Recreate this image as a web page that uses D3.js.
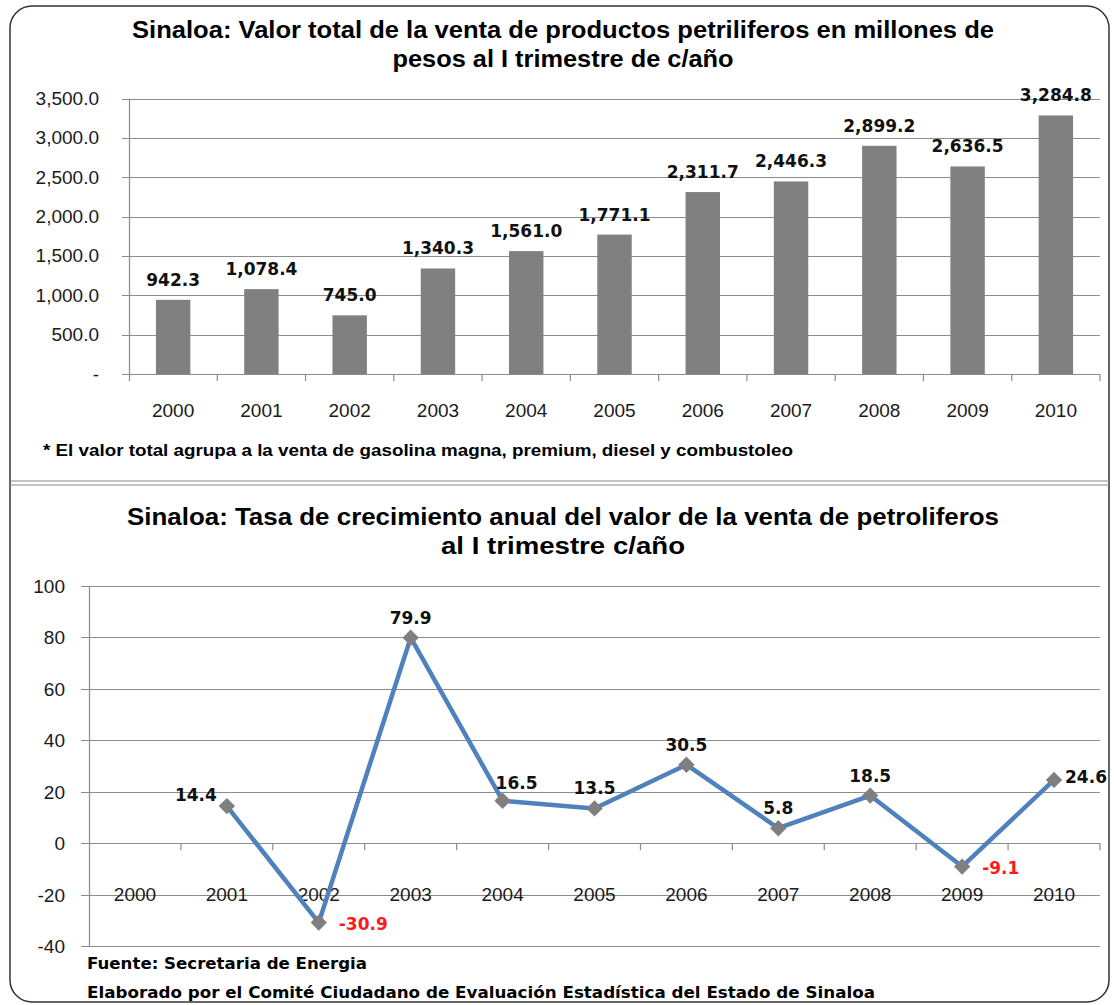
<!DOCTYPE html>
<html>
<head>
<meta charset="utf-8">
<script src="https://cdn.jsdelivr.net/npm/d3@7"></script>
<style>
  body { margin: 0; background: #fff; }
  svg { display: block; }
</style>
</head>
<body>
<div id="chart"></div>
<script>
const years = ['2000', '2001', '2002', '2003', '2004', '2005', '2006', '2007', '2008', '2009', '2010']
const ventas = [942.3, 1078.4, 745.0, 1340.3, 1561.0, 1771.1, 2311.7, 2446.3, 2899.2, 2636.5, 3284.8]
const ventasTicks = [0, 500, 1000, 1500, 2000, 2500, 3000, 3500]
// tasa de crecimiento, 2000 sin dato
const tasa = [null, 14.4, -30.9, 79.9, 16.5, 13.5, 30.5, 5.8, 18.5, -9.1, 24.6]
const tasaTicks = [-40, -20, 0, 20, 40, 60, 80, 100]
// donde va cada etiqueta de dato en la linea
const tasaLabelPos = [null, 'left', 'right', 'top', 'topright', 'top', 'top', 'top', 'top', 'right', 'rightnear']

const W = 1114, H = 1005
const GRID = '#8c8c8c'
const TICK_FONT = "'Liberation Sans', Arial, sans-serif"
const LABEL_FONT = "'DejaVu Sans', Verdana, sans-serif"
const TITLE_FONT = "'Liberation Sans', Arial, sans-serif"
const fmt1 = v => v.toFixed(1)

const svg = d3.select('#chart').append('svg').attr('width', W).attr('height', H)

// marco redondeado y separador
svg.append('rect')
  .attr('x', 10).attr('y', 6).attr('width', 1099).attr('height', 996)
  .attr('rx', 22).attr('ry', 22)
  .attr('fill', 'none').attr('stroke', '#333').attr('stroke-width', 1.5)
svg.append('line').attr('x1', 10).attr('x2', 1109).attr('y1', 481).attr('y2', 481).attr('stroke', '#888').attr('stroke-width', 1.2)
svg.append('line').attr('x1', 10).attr('x2', 1109).attr('y1', 485).attr('y2', 485).attr('stroke', '#888').attr('stroke-width', 1.2)

function title (lines, widths, y0) {
  svg.append('g').selectAll('text').data(lines).enter().append('text')
    .attr('x', 563).attr('y', (d, i) => y0 + i * 29)
    .attr('text-anchor', 'middle')
    .attr('font-family', TITLE_FONT).attr('font-weight', 'bold').attr('font-size', 23)
    .attr('textLength', (d, i) => widths[i]).attr('lengthAdjust', 'spacingAndGlyphs')
    .text(d => d)
}

// ---------- grafica 1: barras ----------
title(['Sinaloa: Valor total de la venta de productos petriliferos en millones de', 'pesos al I trimestre de c/año'], [862, 341], 38)

const x1 = d3.scaleBand().domain(years).range([129, 1100]).paddingInner(0.61).paddingOuter(0.305)
const y1 = d3.scaleLinear().domain([0, 3500]).range([374, 98.5])

const g1 = svg.append('g')
g1.selectAll('line.grid').data(ventasTicks).enter().append('line')
  .attr('x1', 122).attr('x2', 1100)
  .attr('y1', d => Math.round(y1(d)) + 0.5).attr('y2', d => Math.round(y1(d)) + 0.5)
  .attr('stroke', GRID).attr('stroke-width', 1.2)
g1.append('line').attr('x1', 129.5).attr('x2', 129.5).attr('y1', y1(3500)).attr('y2', 381).attr('stroke', GRID).attr('stroke-width', 1.2)
const bandStep = x1.step()
g1.selectAll('line.xt').data(d3.range(1, years.length + 1)).enter().append('line')
  .attr('x1', i => 129 + i * bandStep).attr('x2', i => 129 + i * bandStep)
  .attr('y1', 374).attr('y2', 381).attr('stroke', GRID).attr('stroke-width', 1.2)

g1.selectAll('text.yl').data(ventasTicks).enter().append('text')
  .attr('x', 99).attr('y', d => y1(d) + 6.5)
  .attr('text-anchor', 'end')
  .attr('font-family', TICK_FONT).attr('font-size', 19).attr('fill', '#1a1a1a')
  .text(d => d === 0 ? '-' : d3.format(',.1f')(d))

g1.selectAll('text.xl').data(years).enter().append('text')
  .attr('x', d => x1(d) + x1.bandwidth() / 2).attr('y', 417)
  .attr('text-anchor', 'middle')
  .attr('font-family', TICK_FONT).attr('font-size', 19).attr('fill', '#1a1a1a')
  .text(d => d)

g1.selectAll('rect.bar').data(ventas).enter().append('rect')
  .attr('x', (d, i) => x1(years[i])).attr('width', x1.bandwidth())
  .attr('y', d => y1(d)).attr('height', d => y1(0) - y1(d))
  .attr('fill', '#808080')

g1.selectAll('text.vl').data(ventas).enter().append('text')
  .attr('x', (d, i) => x1(years[i]) + x1.bandwidth() / 2).attr('y', d => y1(d) - 14)
  .attr('text-anchor', 'middle')
  .attr('font-family', LABEL_FONT).attr('font-weight', 'bold').attr('font-size', 17).attr('fill', '#111')
  .text(d => d3.format(',.1f')(d))

svg.append('text')
  .attr('x', 43).attr('y', 456)
  .attr('font-family', TITLE_FONT).attr('font-weight', 'bold').attr('font-size', 16)
  .attr('textLength', 750).attr('lengthAdjust', 'spacingAndGlyphs')
  .text('* El valor total agrupa a la venta de gasolina magna, premium, diesel y combustoleo')

// ---------- grafica 2: linea ----------
title(['Sinaloa: Tasa de crecimiento anual del valor de la venta de petroliferos', 'al I trimestre c/año'], [872, 244], 525)

const x2 = d3.scaleBand().domain(years).range([89, 1100])
const y2 = d3.scaleLinear().domain([-40, 100]).range([946, 586])
const cx = i => x2(years[i]) + x2.bandwidth() / 2

const g2 = svg.append('g')
g2.selectAll('line.grid').data(tasaTicks).enter().append('line')
  .attr('x1', 81).attr('x2', 1100)
  .attr('y1', d => Math.round(y2(d)) + 0.5).attr('y2', d => Math.round(y2(d)) + 0.5)
  .attr('stroke', GRID).attr('stroke-width', 1.2)
g2.append('line').attr('x1', 89.5).attr('x2', 89.5).attr('y1', y2(100)).attr('y2', y2(-40)).attr('stroke', GRID).attr('stroke-width', 1.2)
g2.selectAll('line.xt').data(d3.range(1, years.length + 1)).enter().append('line')
  .attr('x1', i => 89 + i * x2.step()).attr('x2', i => 89 + i * x2.step())
  .attr('y1', y2(0)).attr('y2', y2(0) + 7).attr('stroke', GRID).attr('stroke-width', 1.2)

g2.selectAll('text.yl').data(tasaTicks).enter().append('text')
  .attr('x', 65).attr('y', d => y2(d) + 7)
  .attr('text-anchor', 'end')
  .attr('font-family', TICK_FONT).attr('font-size', 19).attr('fill', '#1a1a1a')
  .text(d => d)

g2.selectAll('text.xl').data(years).enter().append('text')
  .attr('x', (d, i) => cx(i)).attr('y', y2(0) + 58)
  .attr('text-anchor', 'middle')
  .attr('font-family', TICK_FONT).attr('font-size', 19).attr('fill', '#1a1a1a')
  .text(d => d)

const pts = tasa.map((v, i) => ({v, i})).filter(d => d.v !== null)

const line = d3.line().x(d => cx(d.i)).y(d => y2(d.v))
g2.append('path')
  .attr('d', line(pts))
  .attr('fill', 'none').attr('stroke', '#4f81bd').attr('stroke-width', 4.5).attr('stroke-linejoin', 'round')

g2.selectAll('path.mk').data(pts).enter().append('path')
  .attr('d', d3.symbol(d3.symbolDiamond2, 170))
  .attr('transform', d => `translate(${cx(d.i)},${y2(d.v)})`)
  .attr('fill', '#7f7f7f')

const offs = {
  left: [-10, -5, 'end'],
  right: [20, 7, 'start'],
  rightnear: [11, 3, 'start'],
  top: [0, -14, 'middle'],
  topright: [14, -12, 'middle']
}
g2.selectAll('text.vl').data(pts).enter().append('text')
  .attr('x', d => cx(d.i) + offs[tasaLabelPos[d.i]][0])
  .attr('y', d => y2(d.v) + offs[tasaLabelPos[d.i]][1])
  .attr('text-anchor', d => offs[tasaLabelPos[d.i]][2])
  .attr('font-family', LABEL_FONT).attr('font-weight', 'bold').attr('font-size', 17)
  .attr('fill', d => d.v < 0 ? '#ff1a1a' : '#111')
  .text(d => fmt1(d.v))

svg.append('text')
  .attr('x', 87).attr('y', 969)
  .attr('font-family', LABEL_FONT).attr('font-weight', 'bold').attr('font-size', 15)
  .attr('textLength', 280).attr('lengthAdjust', 'spacingAndGlyphs')
  .text('Fuente: Secretaria de Energia')
svg.append('text')
  .attr('x', 87).attr('y', 998)
  .attr('font-family', LABEL_FONT).attr('font-weight', 'bold').attr('font-size', 15)
  .attr('textLength', 788).attr('lengthAdjust', 'spacingAndGlyphs')
  .text('Elaborado por el Comité Ciudadano de Evaluación Estadística del Estado de Sinaloa')
</script>
</body>
</html>
